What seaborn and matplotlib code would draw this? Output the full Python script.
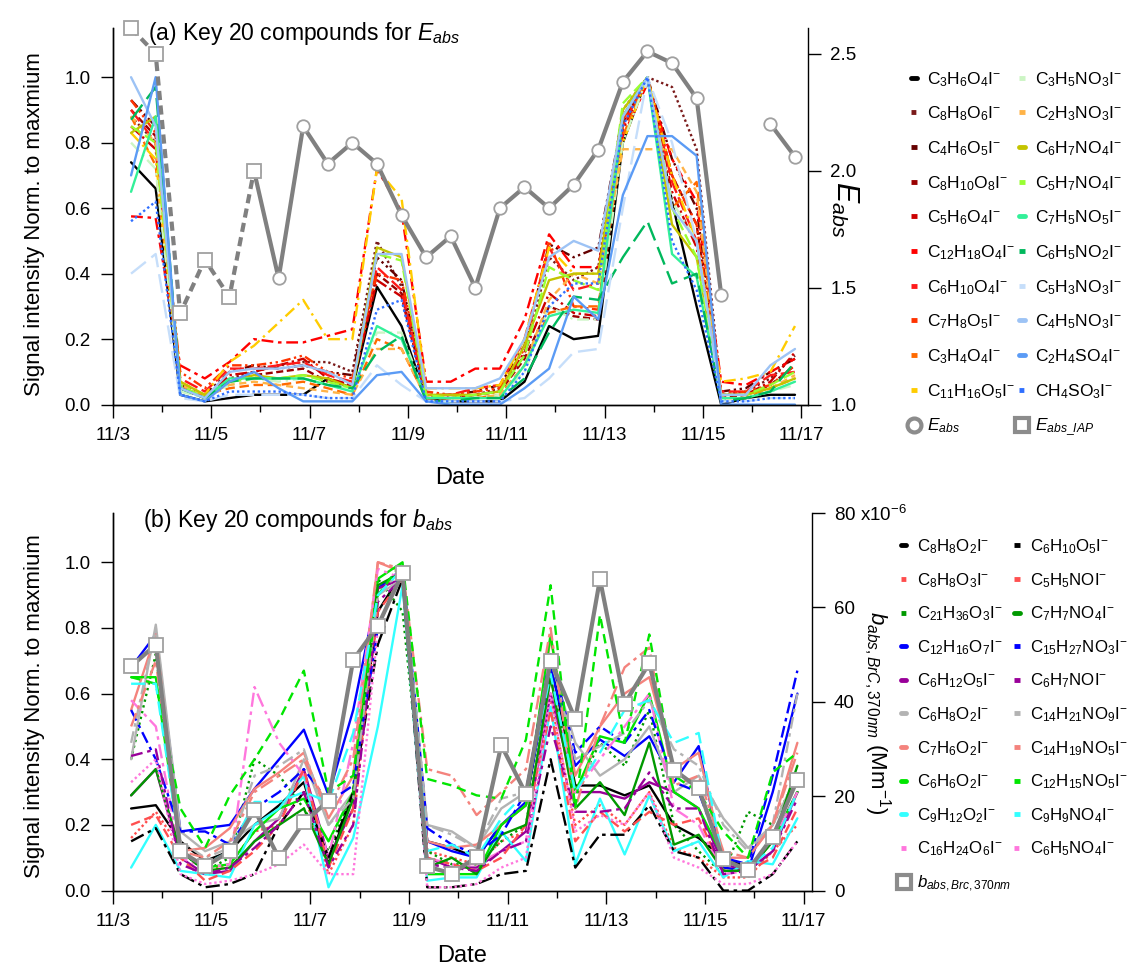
import re

import matplotlib.pyplot as plt
import numpy as np
import pandas as pd
import seaborn as sns
from matplotlib.lines import Line2D
from matplotlib.ticker import FuncFormatter, MultipleLocator

# sampling times, day of November
dates = [3.37, 3.87, 4.37, 4.87, 5.37, 5.87, 6.37, 6.87, 7.37, 7.87,
         8.37, 8.87, 9.37, 9.87, 10.37, 10.87, 11.37, 11.87, 12.37, 12.87,
         13.37, 13.87, 14.37, 14.87, 15.37, 15.87, 16.37, 16.87]

date_ticks = [3, 5, 7, 9, 11, 13, 15, 17]
date_labels = ["11/3", "11/5", "11/7", "11/9", "11/11", "11/13", "11/15", "11/17"]

# ---- panel (a): key compounds for Eabs ----
a_names = ["C3H6O4", "C8H8O6", "C4H6O5", "C8H10O8", "C5H6O4", "C12H18O4",
           "C6H10O4", "C7H8O5", "C3H4O4", "C11H16O5", "C3H5NO3", "C2H3NO3",
           "C6H7NO4", "C5H7NO4", "C7H5NO5", "C6H5NO2", "C5H3NO3", "C4H5NO3",
           "C2H4SO4", "CH4SO3"]
a_colors = ["#000000", "#7a1a1a", "#650000", "#990000", "#cc0000", "#ff0000",
            "#ff1a1a", "#ff3300", "#ff6a00", "#ffcc00", "#ccf5c4", "#ffb347",
            "#c4c400", "#99ff33", "#33f099", "#00b85c", "#c6defa", "#9dc3f5",
            "#5b9bf5", "#2f6fff"]
a_dashes = ["", (1, 1.2), (4, 1.5, 1, 1.5, 1, 1.5), (3, 1.5), (5, 1.5, 1, 1.5),
            (5, 2, 1.5, 2), (6, 2), (4, 1.5, 1, 1.5, 1, 1.5), (4, 2), (5, 2, 1, 2),
            (5, 2, 1, 2), (3, 2), "", (5, 2), "", (8, 3), (8, 3), "", "", (1, 1.2)]
a_values = [
    [0.74, 0.66, 0.03, 0.01, 0.02, 0.03, 0.03, 0.03, 0.08, 0.05, 0.36, 0.24, 0.02, 0.01,
     0.01, 0.01, 0.07, 0.24, 0.20, 0.21, 0.80, 1.00, 0.62, 0.30, 0.00, 0.02, 0.03, 0.03],
    [0.88, 0.80, 0.05, 0.02, 0.08, 0.10, 0.12, 0.13, 0.13, 0.10, 0.50, 0.36, 0.03, 0.02,
     0.03, 0.05, 0.15, 0.45, 0.38, 0.42, 0.90, 1.00, 0.97, 0.78, 0.03, 0.04, 0.08, 0.15],
    [0.93, 0.85, 0.06, 0.03, 0.10, 0.12, 0.11, 0.12, 0.10, 0.09, 0.45, 0.38, 0.03, 0.03,
     0.04, 0.06, 0.18, 0.49, 0.45, 0.48, 0.88, 1.00, 0.75, 0.60, 0.04, 0.05, 0.10, 0.14],
    [0.90, 0.82, 0.05, 0.02, 0.07, 0.09, 0.10, 0.11, 0.07, 0.06, 0.40, 0.34, 0.02, 0.02,
     0.03, 0.04, 0.14, 0.30, 0.27, 0.26, 0.86, 1.00, 0.70, 0.55, 0.02, 0.03, 0.06, 0.12],
    [0.85, 0.78, 0.05, 0.02, 0.09, 0.10, 0.12, 0.14, 0.08, 0.06, 0.38, 0.33, 0.02, 0.02,
     0.03, 0.04, 0.16, 0.34, 0.28, 0.27, 0.84, 1.00, 0.65, 0.48, 0.03, 0.03, 0.07, 0.16],
    [0.575, 0.57, 0.12, 0.08, 0.13, 0.20, 0.19, 0.19, 0.21, 0.23, 0.72, 0.59, 0.07, 0.07,
     0.11, 0.11, 0.26, 0.52, 0.42, 0.42, 0.82, 0.98, 0.75, 0.62, 0.07, 0.06, 0.10, 0.14],
    [0.90, 0.80, 0.08, 0.04, 0.11, 0.11, 0.12, 0.13, 0.09, 0.07, 0.42, 0.35, 0.03, 0.03,
     0.05, 0.06, 0.20, 0.48, 0.35, 0.37, 0.85, 1.00, 0.68, 0.50, 0.04, 0.04, 0.09, 0.10],
    [0.93, 0.83, 0.10, 0.05, 0.12, 0.12, 0.13, 0.15, 0.10, 0.08, 0.40, 0.38, 0.04, 0.03,
     0.04, 0.05, 0.17, 0.50, 0.30, 0.29, 0.87, 1.00, 0.70, 0.55, 0.03, 0.04, 0.06, 0.12],
    [0.88, 0.73, 0.05, 0.03, 0.05, 0.06, 0.06, 0.07, 0.05, 0.03, 0.20, 0.17, 0.02, 0.02,
     0.02, 0.03, 0.12, 0.28, 0.30, 0.30, 0.82, 1.00, 0.60, 0.68, 0.02, 0.02, 0.05, 0.08],
    [0.83, 0.75, 0.07, 0.03, 0.13, 0.18, 0.25, 0.32, 0.20, 0.20, 0.72, 0.63, 0.05, 0.05,
     0.05, 0.06, 0.20, 0.48, 0.40, 0.40, 0.80, 1.00, 0.70, 0.50, 0.07, 0.08, 0.10, 0.24],
    [0.80, 0.72, 0.04, 0.02, 0.06, 0.08, 0.07, 0.08, 0.06, 0.05, 0.22, 0.22, 0.02, 0.02,
     0.02, 0.03, 0.10, 0.30, 0.26, 0.26, 0.80, 1.00, 0.62, 0.50, 0.02, 0.02, 0.04, 0.06],
    [0.88, 0.80, 0.06, 0.03, 0.06, 0.07, 0.06, 0.05, 0.04, 0.03, 0.17, 0.17, 0.02, 0.02,
     0.02, 0.03, 0.12, 0.32, 0.40, 0.37, 0.78, 0.78, 0.78, 0.65, 0.03, 0.03, 0.05, 0.09],
    [0.83, 0.88, 0.07, 0.03, 0.07, 0.09, 0.08, 0.09, 0.08, 0.05, 0.48, 0.45, 0.03, 0.03,
     0.03, 0.04, 0.18, 0.38, 0.40, 0.40, 0.90, 1.00, 0.55, 0.45, 0.03, 0.03, 0.05, 0.08],
    [0.85, 0.80, 0.06, 0.02, 0.07, 0.08, 0.08, 0.09, 0.07, 0.05, 0.46, 0.44, 0.03, 0.02,
     0.03, 0.04, 0.15, 0.42, 0.38, 0.35, 0.92, 1.00, 0.60, 0.45, 0.03, 0.03, 0.06, 0.10],
    [0.65, 0.88, 0.05, 0.02, 0.08, 0.08, 0.08, 0.08, 0.06, 0.04, 0.24, 0.20, 0.02, 0.02,
     0.02, 0.02, 0.12, 0.27, 0.29, 0.28, 0.88, 1.00, 0.46, 0.39, 0.02, 0.02, 0.04, 0.07],
    [0.87, 0.97, 0.05, 0.02, 0.07, 0.08, 0.08, 0.08, 0.06, 0.05, 0.16, 0.21, 0.01, 0.01,
     0.02, 0.02, 0.08, 0.22, 0.33, 0.32, 0.45, 0.56, 0.37, 0.40, 0.01, 0.02, 0.04, 0.13],
    [0.40, 0.46, 0.02, 0.01, 0.03, 0.03, 0.03, 0.03, 0.02, 0.02, 0.12, 0.06, 0.01, 0.01,
     0.01, 0.01, 0.02, 0.08, 0.16, 0.17, 0.60, 1.00, 0.80, 0.50, 0.01, 0.01, 0.02, 0.02],
    [1.00, 0.85, 0.05, 0.02, 0.10, 0.11, 0.11, 0.12, 0.10, 0.06, 0.46, 0.46, 0.05, 0.05,
     0.05, 0.08, 0.20, 0.45, 0.50, 0.47, 0.88, 1.00, 0.60, 0.50, 0.03, 0.03, 0.12, 0.17],
    [0.70, 1.00, 0.03, 0.01, 0.07, 0.10, 0.05, 0.01, 0.01, 0.01, 0.09, 0.10, 0.01, 0.00,
     0.00, 0.00, 0.05, 0.11, 0.33, 0.26, 0.64, 0.82, 0.82, 0.76, 0.00, 0.00, 0.00, 0.00],
    [0.56, 0.62, 0.03, 0.01, 0.04, 0.04, 0.04, 0.03, 0.02, 0.02, 0.29, 0.32, 0.01, 0.01,
     0.01, 0.01, 0.10, 0.30, 0.37, 0.37, 0.85, 1.00, 0.50, 0.35, 0.01, 0.01, 0.02, 0.02],
]

# Eabs (circles) and Eabs_IAP (squares), right axis of panel (a)
eabs = [np.nan, np.nan, np.nan, np.nan, np.nan, 2.00, 1.54, 2.19, 2.03, 2.12,
        2.03, 1.81, 1.63, 1.72, 1.50, 1.84, 1.93, 1.84, 1.94, 2.09,
        2.38, 2.51, 2.46, 2.31, 1.47, np.nan, 2.20, 2.06]
eabs_iap = [2.61, 2.50, 1.39, 1.62, 1.46, 2.00]

# ---- panel (b): key compounds for babs ----
b_names = ["C8H8O2", "C8H8O3", "C21H36O3", "C12H16O7", "C6H12O5", "C6H8O2",
           "C7H6O2", "C6H6O2", "C9H12O2", "C16H24O6", "C6H10O5", "C5H5NO",
           "C7H7NO4", "C15H27NO3", "C6H7NO", "C14H21NO9", "C14H19NO5",
           "C12H15NO5", "C9H9NO4", "C6H5NO4"]
b_colors = ["#000000", "#ff4d4d", "#009900", "#0000ff", "#990099", "#b3b3b3",
            "#f4837d", "#00e600", "#33ffff", "#ff77dd", "#000000", "#ff5050",
            "#009900", "#0000ff", "#990099", "#b3b3b3", "#f4837d", "#00e600",
            "#33ffff", "#ff77dd"]
b_dashes = ["", (1, 1.2), (1, 1.5), "", "", "", "", "", "", (6, 2, 1.5, 2),
            (6, 2, 1.5, 2), (4, 2), "", (5, 2, 1.5, 2), (5, 2, 1.5, 2),
            (5, 2, 1.5, 2), (6, 2, 1.5, 2), (4, 2.5), (6, 3), (1, 1.2)]
b_values = [
    [0.25, 0.26, 0.15, 0.09, 0.12, 0.20, 0.26, 0.33, 0.08, 0.30, 0.85, 0.97, 0.15, 0.13,
     0.10, 0.20, 0.26, 0.70, 0.32, 0.32, 0.29, 0.32, 0.20, 0.16, 0.10, 0.07, 0.15, 0.30],
    [0.16, 0.24, 0.13, 0.06, 0.08, 0.18, 0.20, 0.30, 0.05, 0.20, 0.90, 0.98, 0.12, 0.10,
     0.08, 0.15, 0.18, 0.58, 0.20, 0.26, 0.20, 0.30, 0.13, 0.10, 0.04, 0.04, 0.12, 0.20],
    [0.40, 0.72, 0.12, 0.06, 0.10, 0.40, 0.35, 0.25, 0.12, 0.30, 0.95, 0.85, 0.12, 0.08,
     0.08, 0.15, 0.20, 0.65, 0.30, 0.45, 0.38, 0.55, 0.20, 0.12, 0.05, 0.24, 0.20, 0.35],
    [0.68, 0.78, 0.18, 0.19, 0.20, 0.31, 0.40, 0.49, 0.29, 0.55, 0.92, 0.98, 0.15, 0.12,
     0.10, 0.20, 0.27, 0.68, 0.38, 0.46, 0.41, 0.47, 0.33, 0.44, 0.07, 0.06, 0.30, 0.60],
    [0.29, 0.37, 0.10, 0.05, 0.06, 0.15, 0.22, 0.37, 0.10, 0.25, 0.92, 0.95, 0.10, 0.07,
     0.07, 0.12, 0.18, 0.60, 0.30, 0.30, 0.28, 0.33, 0.30, 0.25, 0.08, 0.06, 0.12, 0.30],
    [0.40, 0.81, 0.18, 0.12, 0.15, 0.20, 0.22, 0.40, 0.20, 0.30, 0.90, 0.95, 0.20, 0.18,
     0.13, 0.25, 0.30, 0.70, 0.45, 0.35, 0.40, 0.50, 0.30, 0.35, 0.22, 0.13, 0.20, 0.35],
    [0.55, 0.78, 0.12, 0.13, 0.19, 0.31, 0.36, 0.42, 0.22, 0.35, 1.00, 0.97, 0.15, 0.13,
     0.14, 0.20, 0.26, 0.77, 0.35, 0.50, 0.60, 0.65, 0.37, 0.42, 0.10, 0.10, 0.20, 0.45],
    [0.65, 0.65, 0.12, 0.07, 0.08, 0.18, 0.25, 0.28, 0.15, 0.30, 0.95, 1.00, 0.05, 0.05,
     0.05, 0.20, 0.26, 0.78, 0.30, 0.47, 0.45, 0.60, 0.30, 0.25, 0.10, 0.06, 0.15, 0.30],
    [0.07, 0.20, 0.06, 0.05, 0.04, 0.20, 0.25, 0.35, 0.01, 0.16, 0.50, 0.93, 0.03, 0.04,
     0.04, 0.18, 0.09, 0.56, 0.08, 0.28, 0.11, 0.29, 0.12, 0.15, 0.04, 0.09, 0.08, 0.22],
    [0.58, 0.50, 0.10, 0.07, 0.08, 0.62, 0.45, 0.35, 0.10, 0.45, 0.98, 0.95, 0.10, 0.08,
     0.08, 0.12, 0.15, 0.65, 0.30, 0.40, 0.50, 0.60, 0.25, 0.20, 0.05, 0.06, 0.15, 0.30],
    [0.15, 0.19, 0.05, 0.01, 0.02, 0.05, 0.20, 0.30, 0.10, 0.30, 0.75, 0.95, 0.01, 0.01,
     0.02, 0.05, 0.06, 0.40, 0.07, 0.17, 0.17, 0.26, 0.12, 0.10, 0.00, 0.00, 0.05, 0.15],
    [0.20, 0.23, 0.10, 0.03, 0.06, 0.12, 0.20, 0.37, 0.07, 0.25, 0.85, 0.95, 0.10, 0.08,
     0.06, 0.10, 0.20, 0.55, 0.15, 0.24, 0.18, 0.24, 0.20, 0.22, 0.06, 0.06, 0.10, 0.25],
    [0.29, 0.37, 0.12, 0.06, 0.07, 0.15, 0.20, 0.25, 0.08, 0.28, 0.93, 0.97, 0.07, 0.10,
     0.05, 0.17, 0.20, 0.65, 0.25, 0.33, 0.23, 0.45, 0.14, 0.17, 0.06, 0.06, 0.15, 0.38],
    [0.55, 0.40, 0.18, 0.18, 0.14, 0.25, 0.30, 0.37, 0.27, 0.32, 0.80, 0.98, 0.19, 0.14,
     0.11, 0.17, 0.30, 0.72, 0.42, 0.50, 0.45, 0.55, 0.33, 0.30, 0.10, 0.08, 0.35, 0.67],
    [0.41, 0.43, 0.08, 0.05, 0.07, 0.13, 0.20, 0.30, 0.07, 0.20, 0.88, 0.95, 0.08, 0.07,
     0.06, 0.12, 0.15, 0.50, 0.24, 0.24, 0.25, 0.36, 0.25, 0.25, 0.05, 0.06, 0.12, 0.28],
    [0.45, 0.80, 0.15, 0.10, 0.13, 0.35, 0.38, 0.43, 0.20, 0.28, 0.90, 0.98, 0.20, 0.17,
     0.13, 0.28, 0.30, 0.72, 0.40, 0.44, 0.48, 0.58, 0.43, 0.38, 0.20, 0.12, 0.20, 0.60],
    [0.50, 0.70, 0.12, 0.10, 0.15, 0.30, 0.35, 0.40, 0.25, 0.40, 1.00, 0.98, 0.37, 0.35,
     0.23, 0.30, 0.37, 0.80, 0.25, 0.50, 0.68, 0.74, 0.32, 0.35, 0.12, 0.10, 0.20, 0.42],
    [0.65, 0.63, 0.25, 0.13, 0.29, 0.40, 0.52, 0.67, 0.30, 0.35, 0.90, 1.00, 0.34, 0.32,
     0.29, 0.28, 0.46, 0.93, 0.25, 0.84, 0.45, 0.78, 0.35, 0.30, 0.18, 0.10, 0.36, 0.42],
    [0.63, 0.63, 0.12, 0.08, 0.12, 0.27, 0.27, 0.30, 0.27, 0.48, 0.90, 0.98, 0.12, 0.14,
     0.10, 0.22, 0.30, 0.66, 0.30, 0.42, 0.55, 0.58, 0.45, 0.48, 0.08, 0.07, 0.13, 0.30],
    [0.33, 0.40, 0.05, 0.02, 0.03, 0.05, 0.08, 0.14, 0.05, 0.05, 0.80, 0.98, 0.01, 0.01,
     0.02, 0.07, 0.10, 0.60, 0.18, 0.23, 0.20, 0.30, 0.10, 0.07, 0.02, 0.02, 0.05, 0.15],
]

# babs,BrC,370nm in units of 1e-6 Mm-1, right axis of panel (b)
babs = [47.5, 52.1, 8.3, 5.1, 8.3, 17.1, 6.8, 14.5, 19.0, 48.9,
        56.1, 67.3, 5.1, 3.6, 7.1, 30.8, 20.5, 48.7, 36.3, 66.0,
        39.6, 48.2, 25.6, 21.7, 6.6, 4.3, 11.4, 23.5]


def chem(formula):
    return re.sub(r"(\d+)", r"$_{\1}$", formula) + "I$^{-}$"


def long_table(names, values):
    return pd.DataFrame({
        "date": np.tile(dates, len(names)),
        "signal": np.concatenate(values),
        "compound": np.repeat(names, len(dates)),
    })


def style_axes(ax, twin, xmax):
    ax.set_xlim(3, xmax)
    ax.set_xticks(date_ticks)
    ax.set_xticklabels(date_labels)
    ax.xaxis.set_minor_locator(MultipleLocator(1))
    ax.set_ylim(0, 1.15)
    ax.set_yticks([0, 0.2, 0.4, 0.6, 0.8, 1.0])
    ax.yaxis.set_major_formatter(FuncFormatter(lambda v, p: f"{v:.1f}"))
    for a in (ax, twin):
        a.spines["top"].set_visible(False)
        for s in a.spines.values():
            s.set_linewidth(1.0)
            s.set_color("black")
        a.tick_params(which="major", direction="out", length=9, width=1,
                      labelsize=13.5, pad=7, color="black", labelcolor="black")
        a.tick_params(which="minor", direction="out", length=5, width=1, color="black")
    ax.spines["right"].set_visible(False)
    ax.set_ylabel("Signal intensity Norm. to maxmium", fontsize=16)
    ax.set_xlabel("Date", fontsize=17)


sns.set_style("ticks")
plt.rcParams["font.family"] = ["Liberation Sans", "DejaVu Sans"]
plt.rcParams["mathtext.fontset"] = "custom"
plt.rcParams["mathtext.rm"] = "Liberation Sans"
plt.rcParams["mathtext.it"] = "Liberation Sans:italic"
plt.rcParams["mathtext.bf"] = "Liberation Sans:bold"
plt.rcParams["text.color"] = "black"
plt.rcParams["axes.labelcolor"] = "black"

fig = plt.figure(figsize=(11.4, 9.68), dpi=100)
ax_a = fig.add_axes([0.099, 0.582, 0.610, 0.389])
ax_b = fig.add_axes([0.099, 0.080, 0.613, 0.390])

# ---------- panel (a) ----------
df_a = long_table(a_names, a_values)
sns.lineplot(data=df_a, x="date", y="signal", hue="compound", style="compound",
             hue_order=a_names, style_order=a_names,
             palette=dict(zip(a_names, a_colors)), dashes=dict(zip(a_names, a_dashes)),
             estimator=None, sort=False, linewidth=1.7, legend=False, ax=ax_a)

tw_a = ax_a.twinx()
df_e = pd.DataFrame({"date": dates, "eabs": eabs,
                     "seg": [0] * 25 + [1] * 3})
df_e = df_e.dropna()
sns.lineplot(data=df_e, x="date", y="eabs", units="seg", estimator=None,
             color="#808080", linewidth=3, marker="o", markersize=9,
             markerfacecolor="white", markeredgecolor="#a0a0a0",
             markeredgewidth=1.3, legend=False, ax=tw_a)
df_iap = pd.DataFrame({"date": dates[:6], "eabs": eabs_iap})
sns.lineplot(data=df_iap, x="date", y="eabs", estimator=None, color="#808080",
             linewidth=3, linestyle=(0, (2.2, 1.3)), marker="s", markersize=9.5,
             markerfacecolor="white", markeredgecolor="#a0a0a0",
             markeredgewidth=1.3, clip_on=False, legend=False, ax=tw_a)
tw_a.set_ylim(1.0, 2.61)
tw_a.set_yticks([1.0, 1.5, 2.0, 2.5])
tw_a.set_ylabel("$E_{abs}$", fontsize=22, rotation=270)
tw_a.yaxis.set_label_coords(1.075, 0.52)

style_axes(ax_a, tw_a, 17.14)
ax_a.yaxis.set_label_coords(-0.097, 0.48)
ax_a.xaxis.set_label_coords(0.5, -0.165)
ax_a.text(0.05, 0.985, "(a) Key 20 compounds for $E_{abs}$", transform=ax_a.transAxes,
          fontsize=16.5, va="center", ha="left")

h_a = [Line2D([], [], color=c, lw=3.5, dashes=d if d else (None, None))
       for c, d in zip(a_colors, a_dashes)]
lab_a = [chem(n) for n in a_names]
h_eabs = Line2D([], [], ls="none", marker="o", ms=10, mfc="white", mec="#8c8c8c", mew=3)
h_iap = Line2D([], [], ls="none", marker="s", ms=10, mfc="white", mec="#8c8c8c", mew=3)
fig.legend(h_a[:10] + [h_eabs] + h_a[10:] + [h_iap],
           lab_a[:10] + ["$E_{abs}$"] + lab_a[10:] + ["$E_{abs\\_IAP}$"],
           ncol=2, loc="upper left", bbox_to_anchor=(0.793, 0.935), frameon=False,
           fontsize=12.5, handlelength=0.35, handletextpad=0.6, columnspacing=0.2,
           labelspacing=0.92, borderaxespad=0)

# ---------- panel (b) ----------
df_b = long_table(b_names, b_values)
sns.lineplot(data=df_b, x="date", y="signal", hue="compound", style="compound",
             hue_order=b_names, style_order=b_names,
             palette=dict(zip(b_names, b_colors)), dashes=dict(zip(b_names, b_dashes)),
             estimator=None, sort=False, linewidth=1.7, legend=False, ax=ax_b)

tw_b = ax_b.twinx()
df_babs = pd.DataFrame({"date": dates, "babs": babs})
sns.lineplot(data=df_babs, x="date", y="babs", estimator=None, color="#808080",
             linewidth=3, marker="s", markersize=9.5, markerfacecolor="white",
             markeredgecolor="#a0a0a0", markeredgewidth=1.3, legend=False, ax=tw_b)
tw_b.set_ylim(0, 80)
tw_b.set_yticks([0, 20, 40, 60, 80])
tw_b.yaxis.set_major_formatter(
    FuncFormatter(lambda v, p: "80 x10$^{-6}$" if v == 80 else f"{v:.0f}"))
tw_b.set_ylabel("$b_{abs,BrC,370nm}$ (Mm$^{-1}$)", fontsize=16, rotation=270)
tw_b.yaxis.set_label_coords(1.115, 0.47)

style_axes(ax_b, tw_b, 17.16)
ax_b.yaxis.set_label_coords(-0.097, 0.49)
ax_b.xaxis.set_label_coords(0.5, -0.145)
ax_b.text(0.043, 0.979, "(b) Key 20 compounds for $b_{abs}$", transform=ax_b.transAxes,
          fontsize=16.5, va="center", ha="left")

h_b = [Line2D([], [], color=c, lw=3.5, dashes=d if d else (None, None))
       for c, d in zip(b_colors, b_dashes)]
lab_b = [chem(n) for n in b_names]
h_babs = Line2D([], [], ls="none", marker="s", ms=10, mfc="white", mec="#8c8c8c", mew=3)
fig.legend(h_b[:10] + [h_babs] + h_b[10:],
           lab_b[:10] + ["$b_{abs,Brc,370nm}$"] + lab_b[10:],
           ncol=2, loc="upper left", bbox_to_anchor=(0.784, 0.452), frameon=False,
           fontsize=12.2, handlelength=0.35, handletextpad=0.6, columnspacing=0.2,
           labelspacing=0.88, borderaxespad=0)

fig.savefig("out.png", dpi=100)
